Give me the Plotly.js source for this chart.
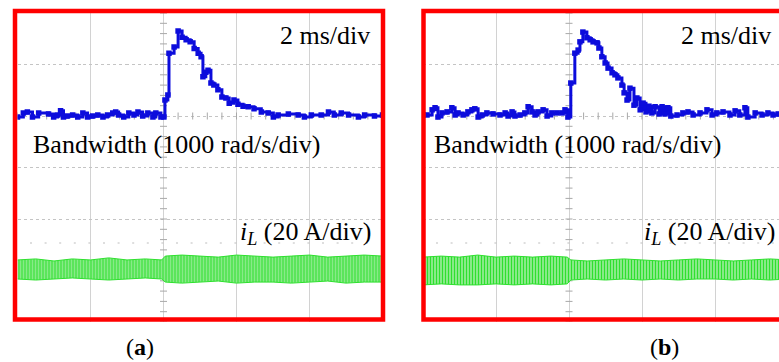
<!DOCTYPE html>
<html>
<head>
<meta charset="utf-8">
<script src="https://cdn.plot.ly/plotly-3.0.1.min.js"></script>
<style>html,body{margin:0;padding:0;background:#fff;}#chart{width:779px;height:362px;}</style>
</head>
<body>
<div id="chart"></div>
<script>
// ---- Data (time in ms, bandwidth deviation in rad/s, inductor current in A) ----
const timeA = [0,0.16,0.27,0.41,0.58,0.85,0.99,1.10,1.18,1.26,1.37,1.51,1.65,1.79,1.92,2.06,2.20,2.34,2.47,2.61,2.69,2.77,2.91,3.05,3.19,3.30,3.43,3.57,3.71,3.79,3.93,4.01,4.04,4.12,4.15,4.29,4.40,4.51,4.62,4.73,4.84,4.95,5.03,5.08,5.16,5.22,5.30,5.38,5.49,5.60,5.71,5.80,5.93,6.04,6.18,6.32,6.48,6.68,6.87,7.01,7.14,7.42,7.69,7.86,8.05,8.32,8.52,8.68,8.87,9.07,9.34,9.51,9.78,10];
const bwA   = [-20,60,80,-20,60,40,-20,20,100,-20,0,20,-20,60,-20,0,20,-20,20,60,80,20,-20,60,20,80,0,60,-20,60,-20,-20,310,410,1220,1340,1650,1530,1480,1440,1310,1220,1150,760,850,890,640,600,510,370,350,250,310,230,190,180,140,80,60,-20,20,40,20,-20,20,20,80,20,60,20,-20,20,0,20];

const timeB = [0,0.11,0.25,0.33,0.41,0.52,0.66,0.79,0.88,0.96,1.10,1.23,1.34,1.42,1.51,1.62,1.75,1.92,2.11,2.25,2.33,2.44,2.52,2.66,2.79,2.88,2.99,3.07,3.15,3.29,3.40,3.53,3.67,3.81,3.89,3.97,4.05,4.16,4.25,4.30,4.38,4.49,4.58,4.66,4.77,4.82,4.90,4.99,5.07,5.18,5.26,5.34,5.45,5.51,5.59,5.67,5.78,5.86,5.95,6.03,6.11,6.19,6.27,6.36,6.47,6.55,6.63,6.71,6.79,6.96,7.12,7.26,7.40,7.59,7.78,7.92,8.05,8.22,8.41,8.55,8.68,8.82,8.90,9.10,9.29,9.45,9.59,9.73,10];
const bwB   = [20,20,120,160,-20,60,80,160,20,60,20,80,120,140,-20,20,60,40,20,60,0,80,0,20,60,180,80,20,80,120,0,60,60,60,120,-20,640,1220,1280,1440,1630,1520,1480,1440,1420,1320,1150,1030,930,840,800,740,600,450,310,540,210,350,120,250,80,190,60,180,40,180,40,160,0,20,60,80,20,60,120,20,60,80,20,100,20,160,-20,60,20,60,20,40,40];

// Inductor current ripple envelope (A)
const envTime   = [0,0.5,1,1.5,2,2.5,3,3.5,3.95,4.05,4.5,5,5.5,6,6.5,7,7.5,8,8.5,9,9.5,10];
const iLUpperA  = [24.1,24.5,23.7,24.5,24.1,24.9,24.1,24.5,24.1,25.6,26.0,25.6,25.2,26.0,25.6,25.2,25.6,26.0,25.2,25.6,26.0,25.6];
const iLLowerA  = [16.7,16.3,16.7,17.1,16.7,16.3,16.7,17.1,16.7,15.5,15.1,15.5,15.9,15.1,15.5,15.5,15.1,15.5,15.9,15.1,15.5,15.5];
const iLUpperB  = [25.2,25.6,25.2,26.0,25.2,25.6,25.2,25.6,25.2,24.1,23.7,24.1,24.5,24.1,23.7,24.1,24.5,24.1,23.7,24.1,24.5,24.1];
const iLLowerB  = [14.4,14.8,14.4,14.4,14.8,14.4,14.8,14.4,14.8,16.3,16.7,16.3,16.7,16.3,16.7,16.3,16.7,16.7,16.3,16.7,16.3,16.7];

const panelLabels = ['(<b>a</b>)', '(<b>b</b>)'];
const timeScaleText = '2 ms/div';
const bwText = 'Bandwidth (1000 rad/s/div)';
const iLText = '<i>i</i><sub><i>L</i></sub> (20 A/div)';

// ---- Layout geometry ----
const W = 779, H = 362;
const px = v => v / W, py = v => 1 - v / H;
const BLUE = '#0c0cdc', GREEN = '#2ee02e';
const FONT = 'Liberation Serif, Times New Roman, serif';

function range(a, b, s) { const r = []; for (let v = a; v <= b + 1e-9; v += s) r.push(+v.toFixed(4)); return r; }

function panelTraces(xa, yb, yi, t, bw, up, lo) {
  const tr = [];
  // scope centre-axis tick marks
  const tx = range(0, 10, 0.4);
  tr.push({x: tx, y: tx.map(() => 0), xaxis: xa, yaxis: yb, mode: 'markers', hoverinfo: 'skip',
    marker: {symbol: 'line-ns', size: 5, line: {color: '#a8a8a8', width: 1}}});
  const ty = range(-4000, 2000, 200);
  tr.push({x: ty.map(() => 4), y: ty, xaxis: xa, yaxis: yb, mode: 'markers', hoverinfo: 'skip',
    marker: {symbol: 'line-ew', size: 5, line: {color: '#a8a8a8', width: 1}}});
  // inductor current ripple band
  tr.push({x: envTime, y: up, xaxis: xa, yaxis: yi, mode: 'lines', line: {color: GREEN, width: 1}, hoverinfo: 'skip'});
  tr.push({x: envTime, y: lo, xaxis: xa, yaxis: yi, mode: 'lines', line: {color: GREEN, width: 1}, hoverinfo: 'skip',
    fill: 'tonexty', fillcolor: '#8fe68f',
    fillpattern: {shape: '|', fgcolor: GREEN, bgcolor: '#a6eea6', size: 3, solidity: 0.5}});
  // bandwidth trace
  tr.push({x: t, y: bw, xaxis: xa, yaxis: yb, mode: 'lines+markers', line: {color: BLUE, width: 3, shape: 'hv'},
    marker: {symbol: 'square', size: 5.5, color: BLUE}, hoverinfo: 'skip'});
  return tr;
}

const data = [].concat(
  panelTraces('x', 'y', 'y2', timeA, bwA, iLUpperA, iLLowerA),
  panelTraces('x2', 'y3', 'y4', timeB, bwB, iLUpperB, iLLowerB)
);

const yDom = [py(322), py(13)];
const xBase = {range: [0, 10], dtick: 2, tick0: 0, showgrid: true, gridcolor: '#d2d2d2', gridwidth: 1,
  zeroline: false, showticklabels: false, ticks: '', showline: false, fixedrange: true};
const yBw = {range: [-4000, 2000], dtick: 1000, tick0: 0, showgrid: true, gridcolor: '#c4c4c4', griddash: 'dot', gridwidth: 1,
  zeroline: false, showticklabels: false, ticks: '', showline: false, domain: yDom};
const yIl = {range: [0, 120], showgrid: false, zeroline: false, showticklabels: false, ticks: '', showline: false};

const shapes = [];
const border = (x0, x1) => ({type: 'rect', xref: 'paper', yref: 'paper', x0: px(x0), x1: px(x1), y0: py(319.5), y1: py(11),
  line: {color: '#ff0000', width: 4.5}, fillcolor: 'rgba(0,0,0,0)'});
const dotRow = (x0, x1) => ({type: 'line', xref: 'paper', yref: 'paper', x0: px(x0), x1: px(x1), y0: py(243), y1: py(243),
  line: {color: '#bdbdbd', width: 1, dash: '2px,12.6px'}});
shapes.push(dotRow(30, 380), dotRow(436, 779), border(15, 383), border(423.5, 792));

const ann = (text, x, y, xanchor, size) => ({text, x: px(x), y: py(y), xref: 'paper', yref: 'paper',
  xanchor, yanchor: 'middle', showarrow: false, font: {family: FONT, size, color: '#000'}});

const annotations = [
  ann(timeScaleText, 372, 35, 'right', 26),
  ann(bwText, 31, 144, 'left', 26),
  ann(iLText, 373, 233, 'right', 26),
  ann(panelLabels[0], 140, 347, 'center', 24),
  ann(timeScaleText, 773, 35, 'right', 26),
  ann(bwText, 432, 144, 'left', 26),
  ann(iLText, 777, 233, 'right', 26),
  ann(panelLabels[1], 664, 347, 'center', 24)
];

const layout = {
  width: W, height: H, margin: {l: 0, r: 0, t: 0, b: 0},
  paper_bgcolor: '#fff', plot_bgcolor: 'rgba(0,0,0,0)', showlegend: false,
  xaxis:  Object.assign({}, xBase, {domain: [px(17.5), px(382.5)], anchor: 'y'}),
  xaxis2: Object.assign({}, xBase, {domain: [px(423), 1], range: [0, (779 - 423) / 36.5], anchor: 'y3'}),
  yaxis:  Object.assign({}, yBw, {anchor: 'x'}),
  yaxis2: Object.assign({}, yIl, {overlaying: 'y', anchor: 'x'}),
  yaxis3: Object.assign({}, yBw, {anchor: 'x2'}),
  yaxis4: Object.assign({}, yIl, {overlaying: 'y3', anchor: 'x2'}),
  shapes, annotations
};

Plotly.newPlot('chart', data, layout, {staticPlot: true, displayModeBar: false});
</script>
</body>
</html>
